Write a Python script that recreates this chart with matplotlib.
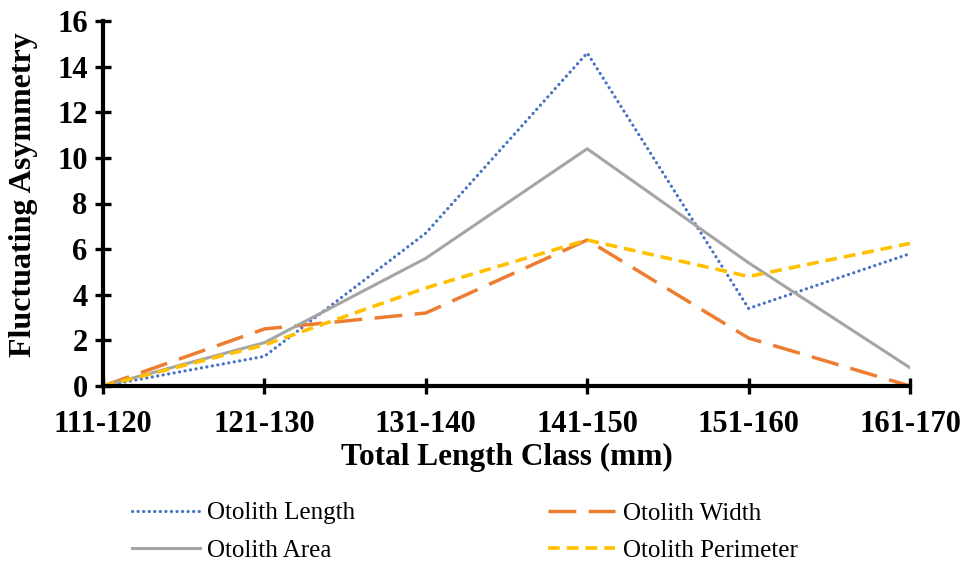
import matplotlib
matplotlib.use("Agg")
import matplotlib.pyplot as plt
import numpy as np

# data
length_classes = ["111-120", "121-130", "131-140", "141-150", "151-160", "161-170"]
otolith_length = [0, 1.3, 6.7, 14.6, 3.4, 5.8]
otolith_width = [0, 2.5, 3.2, 6.4, 2.1, 0]
otolith_area = [0, 1.9, 5.6, 10.4, 5.4, 0.8]
otolith_perimeter = [0, 1.8, 4.3, 6.4, 4.8, 6.25]
y_ticks = [0, 2, 4, 6, 8, 10, 12, 14, 16]

plt.rcParams['font.family'] = ['Liberation Serif', 'DejaVu Serif']
plt.rcParams['lines.scale_dashes'] = False

fig = plt.figure(figsize=(9.64, 5.69), dpi=100)
ax = fig.add_axes([103 / 964, 1 - 386 / 569, (910 - 103) / 964, (386 - 21) / 569])

x = np.arange(len(length_classes))

l_len, = ax.plot(x, otolith_length, color='#4472C4', lw=2.3, dashes=(0.1, 3.9),
                 dash_capstyle='round', label='Otolith Length')
l_wid, = ax.plot(x, otolith_width, color='#ED7D31', lw=2.5, dashes=(20, 9),
                 label='Otolith Width')
l_area, = ax.plot(x, otolith_area, color='#A5A5A5', lw=2.2, label='Otolith Area')
l_per, = ax.plot(x, otolith_perimeter, color='#FFC000', lw=2.6, dashes=(8.5, 5),
                 label='Otolith Perimeter')

ax.set_xlim(0, len(length_classes) - 1)
ax.set_ylim(0, 16)
ax.set_xticks(x)
ax.set_xticklabels(length_classes)
ax.set_yticks(y_ticks)

for side in ['top', 'right']:
    ax.spines[side].set_visible(False)
for side in ['left', 'bottom']:
    ax.spines[side].set_linewidth(3)
    ax.spines[side].set_color('black')

ax.tick_params(axis='both', direction='inout', length=12, width=2.4,
               labelsize=22, colors='black')
ax.tick_params(axis='x', pad=11)
ax.tick_params(axis='y', pad=5)
for lbl in ax.get_xticklabels() + ax.get_yticklabels():
    lbl.set_fontweight('bold')

ax.set_xlabel('Total Length Class (mm)', fontsize=22.5, fontweight='bold', labelpad=3)
ax.set_ylabel('Fluctuating Asymmetry', fontsize=23, fontweight='bold')
# nudge the y label up a little, as in the reference
ax.yaxis.set_label_coords(-0.081, 0.525)

# legend below the plot, two columns filled row by row
handles = [l_len, l_area, l_wid, l_per]
labels = [h.get_label() for h in handles]
fig.legend(handles, labels, ncol=2, frameon=False, fontsize=18,
           loc='upper left', bbox_to_anchor=(132 / 964, 1 - 502 / 569),
           borderpad=0, borderaxespad=0, handlelength=2.7, handletextpad=0.3,
           columnspacing=7.7, labelspacing=0.6)

fig.savefig('out.png', dpi=100)
